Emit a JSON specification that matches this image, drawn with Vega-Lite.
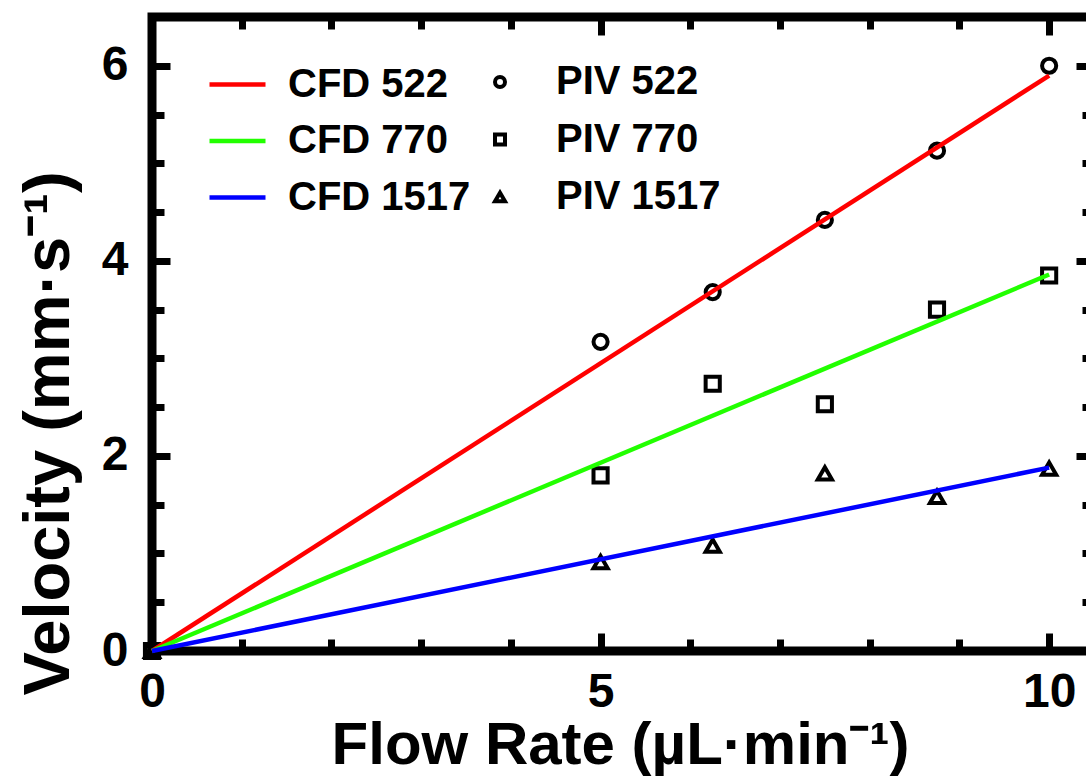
{
  "$schema": "https://vega.github.io/schema/vega-lite/v6.json",
  "autosize": {"type": "none"},
  "padding": {"left": 152, "top": 17, "right": 0, "bottom": 133},
  "width": 942,
  "height": 634,
  "background": "white",
  "config": {
    "font": "Liberation Sans",
    "view": {"stroke": "black", "strokeWidth": 9},
    "axis": {"grid": false, "domain": false, "tickColor": "black", "tickWidth": 7, "labelColor": "black", "labelFontWeight": "bold", "labelFontSize": 48, "labelFont": "Liberation Sans", "labelFlush": false, "titleColor": "black", "titleFontWeight": "bold", "titleFont": "Liberation Sans", "titleFontSize": 60}
  },
  "datasets": {
    "cfd": [
      {"flow": 0, "v": 0, "series": "CFD 522"},
      {"flow": 10, "v": 5.9, "series": "CFD 522"},
      {"flow": 0, "v": 0, "series": "CFD 770"},
      {"flow": 10, "v": 3.86, "series": "CFD 770"},
      {"flow": 0, "v": 0, "series": "CFD 1517"},
      {"flow": 10, "v": 1.88, "series": "CFD 1517"}
    ],
    "piv": [
      {"flow": 0, "v": 0, "series": "PIV 522"},
      {"flow": 5, "v": 3.17, "series": "PIV 522"},
      {"flow": 6.25, "v": 3.68, "series": "PIV 522"},
      {"flow": 7.5, "v": 4.42, "series": "PIV 522"},
      {"flow": 8.75, "v": 5.13, "series": "PIV 522"},
      {"flow": 10, "v": 6.0, "series": "PIV 522"},
      {"flow": 0, "v": 0, "series": "PIV 770"},
      {"flow": 5, "v": 1.80, "series": "PIV 770"},
      {"flow": 6.25, "v": 2.74, "series": "PIV 770"},
      {"flow": 7.5, "v": 2.53, "series": "PIV 770"},
      {"flow": 8.75, "v": 3.50, "series": "PIV 770"},
      {"flow": 10, "v": 3.85, "series": "PIV 770"},
      {"flow": 0, "v": 0, "series": "PIV 1517"},
      {"flow": 5, "v": 0.91, "series": "PIV 1517"},
      {"flow": 6.25, "v": 1.08, "series": "PIV 1517"},
      {"flow": 7.5, "v": 1.82, "series": "PIV 1517"},
      {"flow": 8.75, "v": 1.58, "series": "PIV 1517"},
      {"flow": 10, "v": 1.87, "series": "PIV 1517"}
    ]
  },
  "resolve": {"axis": {"x": "independent", "y": "independent"}},
  "layer": [
    {
      "data": {"name": "piv"},
      "mark": {"type": "point", "opacity": 0},
      "encoding": {
        "x": {"field": "flow", "type": "quantitative", "scale": {"domain": [0, 10.5], "nice": false, "zero": false}, "axis": {"orient": "bottom", "values": [1, 2, 3, 4, 6, 7, 8, 9], "tickSize": -12, "labels": false, "title": null}},
        "y": {"field": "v", "type": "quantitative", "scale": {"domain": [0, 6.5], "nice": false, "zero": false}, "axis": {"orient": "left", "values": [0.5, 1, 1.5, 2.5, 3, 3.5, 4.5, 5, 5.5], "tickSize": -12, "labels": false, "title": null}}
      }
    },
    {
      "data": {"name": "piv"},
      "mark": {"type": "point", "opacity": 0},
      "encoding": {
        "x": {"field": "flow", "type": "quantitative", "axis": {"orient": "top", "values": [1, 2, 3, 4, 6, 7, 8, 9], "tickSize": -12, "labels": false, "title": null}},
        "y": {"field": "v", "type": "quantitative", "axis": {"orient": "right", "values": [0.5, 1, 1.5, 2.5, 3, 3.5, 4.5, 5, 5.5], "tickSize": -12, "labels": false, "title": null}}
      }
    },
    {
      "data": {"name": "piv"},
      "mark": {"type": "point", "filled": false, "color": "black", "strokeWidth": 4, "size": 200, "opacity": 1},
      "encoding": {
        "x": {"field": "flow", "type": "quantitative", "axis": {"orient": "top", "values": [0, 5, 10], "tickSize": -18, "labels": false, "title": null}},
        "y": {"field": "v", "type": "quantitative", "axis": {"orient": "right", "values": [0, 2, 4, 6], "tickSize": -18, "labels": false, "title": null}},
        "shape": {"field": "series", "type": "nominal", "scale": {"domain": ["PIV 522", "PIV 770", "PIV 1517"], "range": ["circle", "square", "triangle-up"]},
          "legend": {"title": null, "orient": "none", "legendX": 328, "legendY": 45, "labelFontSize": 40, "labelFontWeight": "bold", "labelColor": "black", "labelFont": "Liberation Sans", "labelLimit": 0, "symbolSize": 100, "symbolStrokeWidth": 4, "symbolStrokeColor": "black", "symbolFillColor": "transparent", "labelOffset": 36, "rowPadding": 17.5, "padding": 0}}
      }
    },
    {
      "data": {"name": "cfd"},
      "mark": {"type": "line", "strokeWidth": 4.5},
      "encoding": {
        "x": {"field": "flow", "type": "quantitative", "axis": {"orient": "bottom", "values": [0, 5, 10], "tickSize": -18, "labelPadding": 35.5, "title": "Flow Rate (µL·min⁻¹)", "titleBaseline": "alphabetic", "titleY": 112, "titleX": 468, "titleAlign": "center"}},
        "y": {"field": "v", "type": "quantitative", "axis": {"orient": "left", "values": [0, 2, 4, 6], "tickSize": -18, "labelPadding": 42, "title": "Velocity (mm·s⁻¹)", "titleFontSize": 65, "titleBaseline": "alphabetic", "titleX": -84, "titleY": 416, "titleAlign": "center", "titleAngle": -90}},
        "color": {"field": "series", "type": "nominal", "scale": {"domain": ["CFD 522", "CFD 770", "CFD 1517"], "range": ["#ff0000", "#22ff00", "#0000ff"]},
          "legend": {"title": null, "orient": "none", "legendX": 55, "legendY": 37, "labelFontSize": 40, "labelFontWeight": "bold", "labelColor": "black", "labelFont": "Liberation Sans", "labelLimit": 0, "symbolType": "stroke", "symbolSize": 3136, "symbolStrokeWidth": 4.5, "labelOffset": 20, "rowPadding": 5.5, "padding": 0}}
      }
    }
  ]
}
